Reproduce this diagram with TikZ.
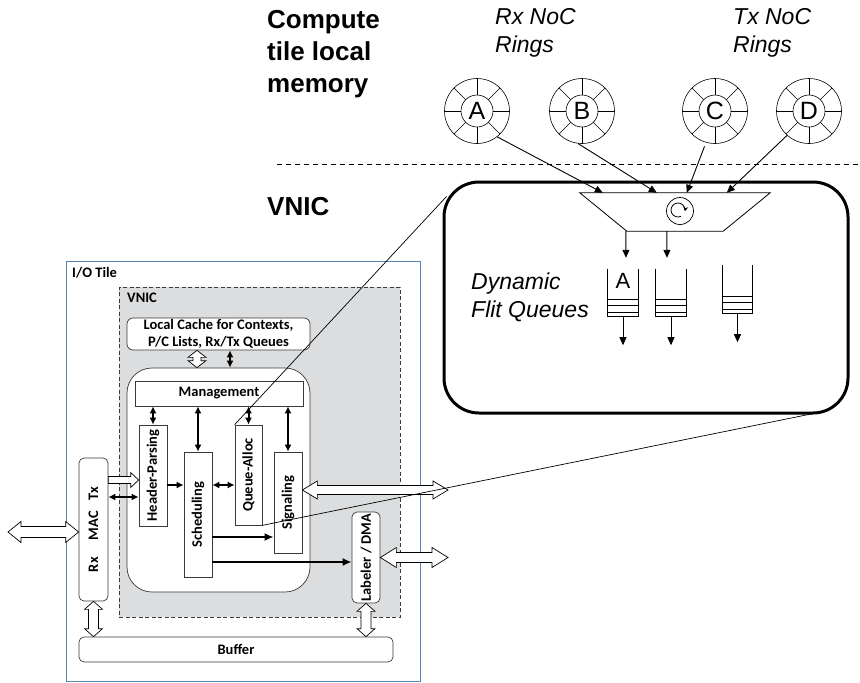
\documentclass[tikz,border=0pt]{standalone}
\usepackage{fontspec}
\newfontfamily\arial{Liberation Sans}
\newfontfamily\calib{Carlito}
\usetikzlibrary{positioning,arrows.meta,calc}
\definecolor{tilecol}{HTML}{5B83B5}
\definecolor{vnicfill}{HTML}{DCDDDE}
\definecolor{edge}{HTML}{3A3A3A}
\tikzset{
  >={Triangle[length=8pt,width=7pt]},
  box/.style={draw=edge, line width=0.7pt, fill=white, inner sep=0pt, align=center,
              font=\calib\bfseries\fontsize{14.5}{17}\selectfont},
  lbl/.style={inner sep=0pt, anchor=north west, align=left},
  big/.style={lbl, font=\arial\bfseries\fontsize{26}{32}\selectfont},
  ital/.style={lbl, font=\arial\itshape\fontsize{23}{28}\selectfont},
  small/.style={lbl, font=\calib\bfseries\fontsize{14.5}{17}\selectfont},
  ring/.style={circle, draw, line width=0.6pt, minimum size=65pt, inner sep=0pt},
  hub/.style={circle, draw, line width=0.6pt, minimum size=32pt, inner sep=0pt,
              font=\arial\fontsize{25}{25}\selectfont},
  queue/.style={inner sep=0pt, minimum width=30pt},
  tarr/.style={->, line width=0.9pt},
  dbl/.style={{Latex[length=7pt,width=7pt]}-{Latex[length=7pt,width=7pt]}, line width=2pt},
  fat/.style={-{Latex[length=9pt,width=8pt]}, line width=2.4pt},
  hollow/.style={draw, line width=0.7pt, fill=white, line join=miter},
}
% hollow arrows: from, to, head length, head half width, shaft half width
\newcommand{\hollowdbl}[5]{%
  \draw[hollow] (#1) -- ($(#1)!#3!(#2)!#4!90:(#2)$) -- ($(#1)!#3!(#2)!#5!90:(#2)$)
    -- ($(#2)!#3!(#1)!#5!-90:(#1)$) -- ($(#2)!#3!(#1)!#4!-90:(#1)$) -- (#2)
    -- ($(#2)!#3!(#1)!#4!90:(#1)$) -- ($(#2)!#3!(#1)!#5!90:(#1)$)
    -- ($(#1)!#3!(#2)!#5!-90:(#2)$) -- ($(#1)!#3!(#2)!#4!-90:(#2)$) -- cycle;}
\newcommand{\hollowone}[5]{%
  \draw[hollow] ($(#1)!#5!90:(#2)$) -- ($(#2)!#3!(#1)!#5!-90:(#1)$)
    -- ($(#2)!#3!(#1)!#4!-90:(#1)$) -- (#2) -- ($(#2)!#3!(#1)!#4!90:(#1)$)
    -- ($(#2)!#3!(#1)!#5!90:(#1)$) -- ($(#1)!#5!-90:(#2)$) -- cycle;}

\begin{document}
\begin{tikzpicture}[x=1pt, y=-1pt]
  \useasboundingbox (0,0) rectangle (860,683);
  % compute tile side
  \node[big](ctl) at (267,10) {Compute\\tile local\\memory};
  \node[big](vt) at (267,197) {VNIC};
  \node[ital](rxr) at (495,8) {Rx NoC\\Rings};
  \node[ital](txr) at (733,8) {Tx NoC\\Rings};
  \draw[dash pattern=on 5pt off 4pt, line width=0.8pt] (277,164) -- (858,164);
  \foreach \n/\x/\lab in {rA/477/A, rB/582/B, rC/715/C, rD/809/D}{
    \node[ring](\n) at (\x,111) {};
    \node[hub](\n c) at (\n) {\lab};
    \foreach \a in {0,45,...,315}
      \draw[line width=0.6pt] ($(\n)+(\a:16)$) -- ($(\n)+(\a:32.5)$);
  }
  % zoomed VNIC
  \node[draw, line width=3pt, rounded corners=35pt, minimum width=404pt, minimum height=231pt, inner sep=0pt](vbig) at (646,297.5) {};
  \node[inner sep=0pt, minimum width=190pt, minimum height=38pt](mux) at (675,212) {};
  \draw[line width=0.8pt] (mux.north west) -- (mux.north east) -- ($(mux.south east)+(-47,0)$) -- ($(mux.south west)+(47,0)$) -- cycle;
  \node[circle, draw, line width=0.7pt, minimum size=27pt, inner sep=0pt](rr) at (680,211) {};
  \draw[line width=0.8pt, -{Stealth[length=4.5pt,width=5pt]}] ($(rr.center)+(-2,-1)$) ++(65:7) arc[start angle=65, end angle=370, radius=7];
  \draw[tarr](rA.-52) -- ($(mux.north west)+(23,0)$);
  \draw[tarr](rB.-97) -- ($(mux.north west)+(77,0)$);
  \draw[tarr, shorten <=4pt](rC.-106) -- ($(mux.north west)+(107,0)$);
  \draw[tarr](rD.-132) -- ($(mux.north west)+(147,0)$);
  \node[ital](dfq) at (471,273) {Dynamic\\Flit Queues};
  \node[queue, minimum height=47pt](q1) at (623,292.5) {};
  \node[queue, minimum height=47pt](q2) at (671,292.5) {};
  \node[queue, minimum height=48pt](q3) at (737.5,289) {};
  \foreach \q in {q1,q2,q3}{
    \draw[line width=0.8pt] (\q.north west) -- (\q.south west) -- (\q.south east) -- (\q.north east);
    \foreach \d in {4,10.5,17}
      \draw[line width=0.8pt] ($(\q.south west)+(0,-\d)$) -- ($(\q.south east)+(0,-\d)$);
    \draw[tarr](\q.south) -- ++(0,29);
  }
  \node[inner sep=0pt, font=\arial\fontsize{22}{22}\selectfont](qlbl) at (623,281) {A};
  \draw[tarr]($(mux.south west)+(46,0)$) -- ($(q1.north)+(3,-11)$);
  \draw[tarr]($(mux.south west)+(87,0)$) -- ($(q2.north)+(-4,-11)$);
  % I/O tile
  \node[draw=tilecol, line width=1pt, minimum width=354pt, minimum height=420pt, inner sep=0pt](iot) at (243,471.5) {};
  \node[small](iotl) at (72,267) {I/O Tile};
  \node[draw=edge, dash pattern=on 4pt off 2.5pt, fill=vnicfill, line width=0.8pt, minimum width=281pt, minimum height=330pt, inner sep=0pt](vnic) at (259.5,452) {};
  \node[small](vnicl) at (127,293) {VNIC};
  \node[box, rounded corners=6pt, minimum width=183pt, minimum height=32pt](cache) at (218.5,334) {Local Cache for Contexts,\\P/C Lists, Rx/Tx Queues};
  \node[box, rounded corners=25pt, minimum width=183pt, minimum height=224pt](core) at (218.5,480) {};
  \node[box, minimum width=168pt, minimum height=25pt](mgmt) at (219,393.5) {Management};
  \node[box, minimum width=28pt, minimum height=101pt](hp) at (153,475.5) {\rotatebox{90}{Header-Parsing}};
  \node[box, minimum width=28pt, minimum height=125pt](sch) at (198,514.5) {\rotatebox{90}{Scheduling}};
  \node[box, minimum width=27pt, minimum height=100pt](qa) at (248.5,475) {\rotatebox{90}{Queue-Alloc}};
  \node[box, minimum width=28pt, minimum height=101pt](sig) at (288,502.5) {\rotatebox{90}{Signaling}};
  \node[box, rounded corners=5pt, minimum width=29pt, minimum height=143pt](mac) at (93.5,529.5) {\rotatebox{90}{Rx\hspace{17pt}MAC\hspace{11pt}Tx}};
  \node[box, rounded corners=5pt, minimum width=28pt, minimum height=91pt](dma) at (366,557.5) {\rotatebox{90}{Labeler / DMA}};
  \node[box, rounded corners=5pt, minimum width=314pt, minimum height=25pt](buf) at (236,649.5) {Buffer};
  \coordinate (row1) at (0,485);
  \coordinate (row2) at (0,537);
  \coordinate (row3) at (0,562);
  \coordinate (row4) at (0,480);
  \coordinate (row5) at (0,497);
  \coordinate (row6) at (0,490);
  \coordinate (ext) at (8,532);
  \coordinate (outs) at (448,490);
  \coordinate (outd) at (448,557.5);
  \coordinate (macw) at (mac.west |- ext);
  \coordinate (macr) at (mac.east |- row4);
  \coordinate (hpl) at (hp.west |- row4);
  \coordinate (macb) at (mac.south |- buf.north);
  \coordinate (dmab) at (dma.south |- buf.north);
  \coordinate (sige) at (sig.east |- row6);
  \coordinate (cs) at ($(cache.south)+(-21.5,0)$);
  \coordinate (cn) at ($(core.north)+(-21.5,0)$);
  \draw[dbl]($(cache.south)+(11.5,0)$) -- ($(core.north)+(11.5,0)$);
  \draw[dbl](hp.north) -- (hp.north |- mgmt.south);
  \draw[dbl](sch.north) -- (sch.north |- mgmt.south);
  \draw[dbl](qa.north) -- (qa.north |- mgmt.south);
  \draw[dbl](sig.north) -- (sig.north |- mgmt.south);
  \draw[-{Latex[length=7pt,width=7pt]}, line width=2pt](hp.east |- row1) -- (sch.west |- row1);
  \draw[dbl](sch.east |- row1) -- (qa.west |- row1);
  \draw[fat](sch.east |- row2) -- (sig.west |- row2);
  \draw[fat](sch.east |- row3) -- (dma.west |- row3);
  \draw[dbl](mac.east |- row5) -- (hp.west |- row5);
  \hollowdbl{cs}{cn}{7pt}{9pt}{4pt}
  \hollowdbl{ext}{macw}{13pt}{10.5pt}{5.5pt}
  \hollowone{macr}{hpl}{8pt}{7.5pt}{3.5pt}
  \hollowdbl{mac.south}{macb}{8pt}{9pt}{5pt}
  \hollowdbl{dma.south}{dmab}{8pt}{9pt}{5pt}
  \hollowdbl{sige}{outs}{15pt}{9pt}{4.5pt}
  \hollowdbl{dma.east}{outd}{16pt}{10pt}{5pt}
  % zoom lines
  \draw[line width=0.7pt](qa.north west) -- ($(vbig.north west)+(4,16)$);
  \draw[line width=0.7pt](qa.south east) -- ($(vbig.south east)+(-36,-1)$);
\end{tikzpicture}
\end{document}
